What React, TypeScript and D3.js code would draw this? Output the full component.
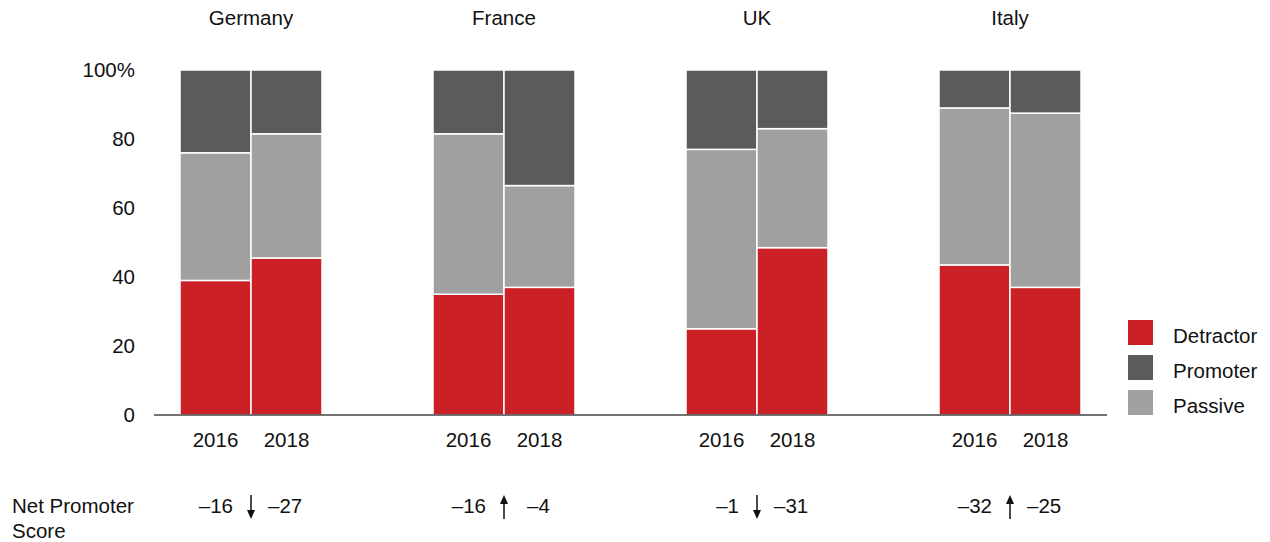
import React from "react";
import * as d3 from "d3";

const countries = ["Germany", "France", "UK", "Italy"];
const years = ["2016", "2018"];
const seriesNames = ["Detractor", "Passive", "Promoter"];
const legendOrder = ["Detractor", "Promoter", "Passive"];
const detractor = [[39, 45.5], [35, 37], [25, 48.5], [43.5, 37]];
const passive = [[37, 36], [46.5, 29.5], [52, 34.5], [45.5, 50.5]];
const promoter = [[24, 18.5], [18.5, 33.5], [23, 17], [11, 12.5]];
const npsValues = [["–16", "–27"], ["–16", "–4"], ["–1", "–31"], ["–32", "–25"]];
const npsDirection = ["down", "up", "down", "up"];
const yTicks = [0, 20, 40, 60, 80, 100];

const colors: Record<string, string> = {
  Detractor: "#CC2027",
  Promoter: "#5B5B5B",
  Passive: "#A0A0A0",
};

export default function App() {
  const W = 1270, H = 542;
  const font = "Liberation Sans, Arial, Helvetica, sans-serif";
  const fs = 20.5;
  const x0 = d3.scaleBand<string>().domain(countries).range([124.5, 1136.5]).padding(0);
  const x1 = d3.scaleBand<string>().domain(years).range([55.5, 197.5]).padding(0);
  const y = d3.scaleLinear().domain([0, 100]).range([415, 70]);
  const data: Record<string, number[][]> = { Detractor: detractor, Passive: passive, Promoter: promoter };

  const bars: React.ReactNode[] = [];
  countries.forEach((c, ci) => {
    years.forEach((yr, yi) => {
      let acc = 0;
      seriesNames.forEach((s) => {
        const v = data[s][ci][yi];
        const y0 = acc, y1v = acc + v;
        acc = y1v;
        bars.push(
          <rect key={`${c}-${yr}-${s}`} x={(x0(c) as number) + (x1(yr) as number)} y={y(y1v)}
            width={x1.bandwidth()} height={y(y0) - y(y1v)} fill={colors[s]}
            stroke="#fff" strokeWidth={1.5} />
        );
      });
    });
  });

  return (
    <svg width={W} height={H} style={{ display: "block", position: "absolute", left: 0, top: 0 }} fontFamily={font}>
      <rect width={W} height={H} fill="#fff" />
      {bars}
      <line x1={154} x2={1107} y1={y(0)} y2={y(0)} stroke="#444" strokeWidth={1.5} />
      {yTicks.map((t) => (
        <text key={t} x={135} y={y(t)} dy="0.35em" textAnchor="end" fontSize={fs} fill="#111">
          {t === 100 ? "100%" : t}
        </text>
      ))}
      {countries.map((c) => {
        const cx = (x0(c) as number) + x0.bandwidth() / 2;
        return (
          <text key={c} x={cx} y={18} dy="0.35em" textAnchor="middle" fontSize={fs} fill="#111">{c}</text>
        );
      })}
      {countries.map((c) =>
        years.map((yr) => (
          <text key={c + yr} x={(x0(c) as number) + (x1(yr) as number) + x1.bandwidth() / 2} y={440}
            dy="0.35em" textAnchor="middle" fontSize={fs} fill="#111">{yr}</text>
        ))
      )}
      <text x={12} y={506} dy="0.35em" fontSize={fs} fill="#111">Net Promoter</text>
      <text x={12} y={531} dy="0.35em" fontSize={fs} fill="#111">Score</text>
      {countries.map((c, ci) => {
        const cx = (x0(c) as number) + x0.bandwidth() / 2;
        const up = npsDirection[ci] === "up";
        const top = 495, bot = 519;
        const rightOffset = npsValues[ci][1].length < 3 ? 23 : 17;
        return (
          <g key={"nps" + c}>
            <text x={cx - 18} y={506} dy="0.35em" textAnchor="end" fontSize={fs} fill="#111">{npsValues[ci][0]}</text>
            <text x={cx + rightOffset} y={506} dy="0.35em" textAnchor="start" fontSize={fs} fill="#111">{npsValues[ci][1]}</text>
            <line x1={cx} x2={cx} y1={up ? top + 6 : top} y2={up ? bot : bot - 6} stroke="#111" strokeWidth={1.5} />
            {up ? (
              <path d={`M${cx - 4},${top + 9} L${cx},${top} L${cx + 4},${top + 9} Z`} fill="#111" />
            ) : (
              <path d={`M${cx - 4},${bot - 9} L${cx},${bot} L${cx + 4},${bot - 9} Z`} fill="#111" />
            )}
          </g>
        );
      })}
      {legendOrder.map((s, i) => (
        <g key={s} transform={`translate(1128, ${320 + i * 35})`}>
          <rect width={25} height={25} fill={colors[s]} />
          <text x={45} y={15.5} dy="0.35em" fontSize={fs} fill="#111">{s}</text>
        </g>
      ))}
    </svg>
  );
}
